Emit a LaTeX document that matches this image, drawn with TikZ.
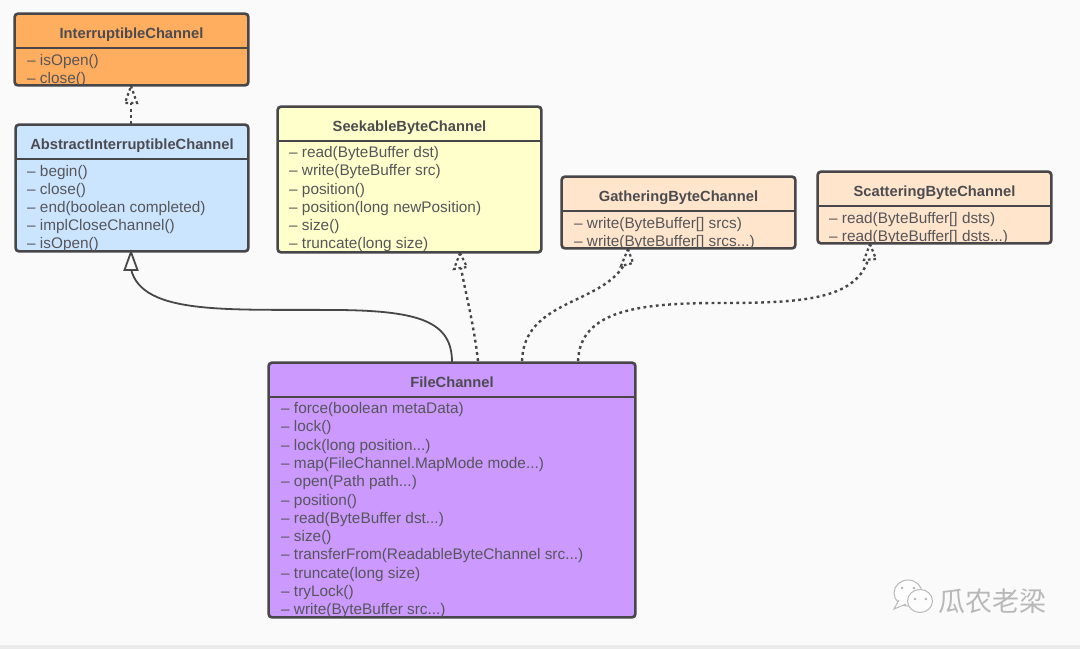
\documentclass[tikz,border=0pt]{standalone}
\usepackage{fontspec}
\setmainfont{Liberation Sans}
\newfontfamily\cjkwm{Noto Sans CJK SC}
\usetikzlibrary{arrows.meta,calc}
\definecolor{bgc}{HTML}{FAFAFB}
\definecolor{inkc}{HTML}{47474A}
\definecolor{txtc}{HTML}{56565A}
\definecolor{titlec}{HTML}{4C4C50}
\definecolor{orangec}{HTML}{FFAD5F}
\definecolor{bluec}{HTML}{CCE5FF}
\definecolor{yellowc}{HTML}{FFFFCC}
\definecolor{peachc}{HTML}{FFE5CC}
\definecolor{purplec}{HTML}{CC99FF}
\tikzset{
  umlbox/.style={rectangle,rounded corners=3.5pt,inner sep=0pt,line width=1.6pt,draw=inkc},
  umlrim/.style={rounded corners=3.5pt,line width=1.6pt,draw=inkc},
  divider/.style={line width=1.6pt,draw=inkc},
  titletext/.style={inner sep=0pt,yshift=-1.5pt,text=titlec,font=\fontsize{14.7}{16}\selectfont\bfseries},
  itemtext/.style={inner sep=0pt,anchor=west,yshift=-1.8pt,text=txtc,font=\fontsize{15.35}{17}\selectfont},
  solidlink/.style={line width=1.8pt,draw=inkc},
  dotlink/.style={line width=2.4pt,draw=inkc,dash pattern=on 2.8pt off 3.4pt},
  soliddtip/.style={line width=1.8pt,draw=inkc,fill=bgc,line join=miter},
  dottip/.style={line width=2.2pt,draw=inkc,dash pattern=on 2.6pt off 2.8pt},
  wmtext/.style={inner sep=0pt,text=black!28,font=\fontsize{27}{30}\cjkwm\selectfont},
  wmicon/.style={line width=1pt,draw=black!28,fill=white!60!bgc}
}
% name, x1,y1,x2,y2, divider y, fill, title, title y
\newcommand{\umlboxbase}[9]{%
  \node[umlbox,fill=#7,minimum width={(#4-#2)*1pt},minimum height={(#5-#3)*1pt}] (#1) at ({(#2+#4)/2},{(#3+#5)/2}) {};
  \coordinate (#1-dl) at (#2,#6);
  \coordinate (#1-dr) at (#4,#6);
  \draw[divider] (#1-dl) -- (#1-dr);
  \node[titletext] (#1-title) at ({(#2+#4)/2},#9) {#8};
}
\newcommand{\umlrim}[1]{\draw[umlrim] (#1.south west) rectangle (#1.north east);}
\newcommand{\umlitem}[4]{\node[itemtext] (#1) at (#2,#3) {– #4};}
\newcommand{\itemclip}[1]{\clip (#1.south west) rectangle (#1.north east);}
\begin{document}
\begin{tikzpicture}[x=1pt,y=-1pt]
\useasboundingbox (0,0) rectangle (1080,649);
\fill[bgc] (0,0) rectangle (1080,649);
\fill[black!8] (0,645) rectangle (1080,649);

\umlboxbase{ic}{15}{14}{248}{85}{48}{orangec}{InterruptibleChannel}{33}
\begin{scope}\itemclip{ic}
\umlitem{ic1}{27}{60}{isOpen()}
\umlitem{ic2}{27}{78}{close()}
\end{scope}
\umlrim{ic}

\umlboxbase{ac}{16}{125}{248}{251}{159}{bluec}{AbstractInterruptibleChannel}{144}
\begin{scope}\itemclip{ac}
\umlitem{ac1}{27}{171}{begin()}
\umlitem{ac2}{27}{189}{close()}
\umlitem{ac3}{27}{207}{end(boolean completed)}
\umlitem{ac4}{27}{225}{implCloseChannel()}
\umlitem{ac5}{27}{243}{isOpen()}
\end{scope}
\umlrim{ac}

\umlboxbase{sb}{278}{107}{541}{252}{141}{yellowc}{SeekableByteChannel}{126}
\begin{scope}\itemclip{sb}
\umlitem{sb1}{289}{152}{read(ByteBuffer dst)}
\umlitem{sb2}{289}{170}{write(ByteBuffer src)}
\umlitem{sb3}{289}{189}{position()}
\umlitem{sb4}{289}{207}{position(long newPosition)}
\umlitem{sb5}{289}{225}{size()}
\umlitem{sb6}{289}{243}{truncate(long size)}
\end{scope}
\umlrim{sb}

\umlboxbase{gb}{562}{177}{795}{248}{211}{peachc}{GatheringByteChannel}{196}
\begin{scope}\itemclip{gb}
\umlitem{gb1}{574}{223}{write(ByteBuffer[] srcs)}
\umlitem{gb2}{574}{241}{write(ByteBuffer[] srcs...)}
\end{scope}
\umlrim{gb}

\umlboxbase{st}{818}{172}{1051}{243}{206}{peachc}{ScatteringByteChannel}{191}
\begin{scope}\itemclip{st}
\umlitem{st1}{829}{218}{read(ByteBuffer[] dsts)}
\umlitem{st2}{829}{236}{read(ByteBuffer[] dsts...)}
\end{scope}
\umlrim{st}

\umlboxbase{fc}{269}{363}{635}{617}{397}{purplec}{FileChannel}{381}
\begin{scope}\itemclip{fc}
\umlitem{fc1}{281}{408}{force(boolean metaData)}
\umlitem{fc2}{281}{426}{lock()}
\umlitem{fc3}{281}{445}{lock(long position...)}
\umlitem{fc4}{281}{463}{map(FileChannel.MapMode mode...)}
\umlitem{fc5}{281}{481}{open(Path path...)}
\umlitem{fc6}{281}{500}{position()}
\umlitem{fc7}{281}{518}{read(ByteBuffer dst...)}
\umlitem{fc8}{281}{536}{size()}
\umlitem{fc9}{281}{554}{transferFrom(ReadableByteChannel src...)}
\umlitem{fc10}{281}{573}{truncate(long size)}
\umlitem{fc11}{281}{591}{tryLock()}
\umlitem{fc12}{281}{609}{write(ByteBuffer src...)}
\end{scope}
\umlrim{fc}

% connector ends
\coordinate (s0) at (452,362);
\coordinate (t0) at (131,252);
\coordinate (t0b) at (131,269);
\coordinate (s1) at (131,124);
\coordinate (t1) at (131,86);
\coordinate (t1b) at (131,102);
\coordinate (s2) at (478,361);
\coordinate (t2) at (460,253);
\coordinate (t2b) at (461,268);
\coordinate (s3) at (522,361);
\coordinate (t3) at (628,249);
\coordinate (t3b) at (624,265);
\coordinate (s4) at (578,361);
\coordinate (t4) at (870,244);
\coordinate (t4b) at (868,260);

% FileChannel -> AbstractInterruptibleChannel
\draw[solidlink] (s0) .. controls (452,322) and (420,311) .. (340,310)
  .. controls (230,309) and (142,316) .. (t0b);
\draw[soliddtip] (t0) -- (137.5,270) -- (124.5,270) -- cycle;

% AbstractInterruptibleChannel -> InterruptibleChannel
\draw[dotlink] (s1) -- (t1b);
\draw[dottip] (t1) -- (137,103) -- (125,103) -- cycle;

% FileChannel -> SeekableByteChannel
\draw[dotlink] (s2) .. controls (474,325) and (466,295) .. (t2b);
\draw[dottip] (t2) -- (467,267) -- (454,269) -- cycle;

% FileChannel -> GatheringByteChannel
\draw[dotlink] (s3) .. controls (524,300) and (600,305) .. (t3b);
\draw[dottip] (t3) -- (633,263) -- (621,266) -- cycle;

% FileChannel -> ScatteringByteChannel
\draw[dotlink] (s4) .. controls (580,310) and (640,303) .. (720,303)
  .. controls (800,303) and (855,300) .. (t4b);
\draw[dottip] (t4) -- (876,259) -- (864,260) -- cycle;

% watermark
\draw[wmicon] (908,593) ellipse [x radius=14,y radius=13];
\draw[wmicon] (906,604) -- (894,609) -- (899,600);
\draw[wmicon] (920,601) ellipse [x radius=12.5,y radius=11.5];
\fill[black!30] (902,588) circle (1.3) (914,588) circle (1.3) (915,599) circle (1.3) (926,599) circle (1.3);
\node[wmtext,anchor=west] (wm) at (938,601) {瓜农老梁};
\end{tikzpicture}
\end{document}
